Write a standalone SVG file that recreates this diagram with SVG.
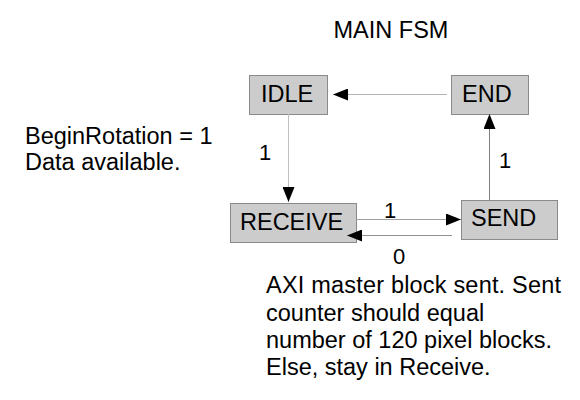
<svg xmlns="http://www.w3.org/2000/svg" width="580" height="400" viewBox="0 0 580 400">
<style>
text{font-family:"Liberation Sans",Arial,sans-serif;font-size:23.5px;fill:#000}
.box{fill:#cccccc;stroke:#8a8a8a;stroke-width:1}
.lbl{font-size:22px}
</style>
<defs>
<marker id="ah" viewBox="0 0 15 12" refX="15" refY="6" markerWidth="15" markerHeight="12" markerUnits="userSpaceOnUse" orient="auto">
<path d="M0,0 L15,6 L0,12 Z" fill="#000"/>
</marker>
</defs>
<rect width="580" height="400" fill="#fff"/>
<text x="391" y="38" text-anchor="middle">MAIN FSM</text>
<g id="IDLE"><rect class="box" x="249.5" y="75.5" width="78" height="39"/><text x="261" y="102">IDLE</text></g>
<g id="END"><rect class="box" x="451.5" y="75.5" width="77" height="39"/><text x="462" y="102">END</text></g>
<g id="RECEIVE"><rect class="box" x="230.5" y="203.5" width="126" height="39"/><text x="240" y="230">RECEIVE</text></g>
<g id="SEND"><rect class="box" x="461.5" y="200.5" width="96" height="39"/><text x="471" y="226">SEND</text></g>
<g id="connectors" fill="none">
<line x1="447" y1="94.5" x2="333" y2="94.5" stroke="#b3b3b3" marker-end="url(#ah)"/>
<line x1="288.5" y1="114" x2="288.5" y2="202" stroke="#c0c0c0" marker-end="url(#ah)"/>
<line x1="489.5" y1="200" x2="489.5" y2="114" stroke="#808080" marker-end="url(#ah)"/>
<line x1="356" y1="219.5" x2="461" y2="219.5" stroke="#a0a0a0" marker-end="url(#ah)"/>
<line x1="452" y1="235.5" x2="347" y2="235.5" stroke="#909090" marker-end="url(#ah)"/>
<text class="lbl" x="259" y="160">1</text>
<text class="lbl" x="499" y="168">1</text>
<text class="lbl" x="384" y="218">1</text>
<text class="lbl" x="393" y="264">0</text>
</g>
<g id="notes">
<text x="25" y="144">BeginRotation = 1</text>
<text x="25" y="170">Data available.</text>
<text x="266" y="293" textLength="295">AXI master block sent. Sent</text>
<text x="266" y="321">counter should equal</text>
<text x="266" y="348">number of 120 pixel blocks.</text>
<text x="266" y="375">Else, stay in Receive.</text>
</g>
</svg>
